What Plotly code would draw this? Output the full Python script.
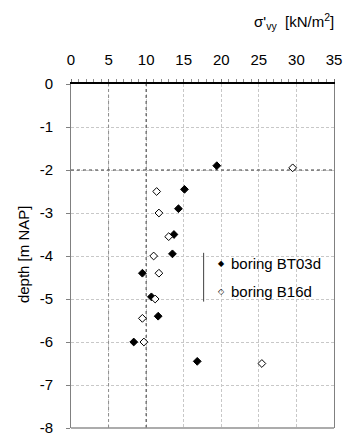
import plotly.graph_objects as go

# Effective vertical stress versus depth for two borings
depth_bt03d = [-1.9, -2.45, -2.9, -3.5, -3.95, -4.4, -4.95, -5.4, -6.0, -6.45]
sigma_bt03d = [19.4, 15.1, 14.3, 13.7, 13.5, 9.5, 10.7, 11.6, 8.35, 16.8]

depth_b16d = [-1.95, -2.5, -3.0, -3.55, -4.0, -4.4, -5.0, -5.45, -6.0, -6.5]
sigma_b16d = [29.5, 11.4, 11.7, 13.0, 11.0, 11.7, 11.2, 9.5, 9.7, 25.4]

x_ticks = [0, 5, 10, 15, 20, 25, 30, 35]
y_ticks = [0, -1, -2, -3, -4, -5, -6, -7, -8]
y_tick_labels = ["0", "-1", "-2", "-3", "-4", "-5", "-6", "-7", "-8"]

series_names = ["boring BT03d", "boring B16d"]

FONT = "Liberation Sans"
FS = 15

fig = go.Figure()
fig.add_trace(go.Scatter(
    x=sigma_bt03d, y=depth_bt03d, mode="markers", name=series_names[0],
    marker=dict(symbol="diamond", size=6, color="black", line=dict(width=1, color="black")),
    showlegend=False,
))
fig.add_trace(go.Scatter(
    x=sigma_b16d, y=depth_b16d, mode="markers", name=series_names[1],
    marker=dict(symbol="diamond", size=6, color="white", line=dict(width=1, color="black")),
    showlegend=False,
))

fig.update_layout(
    width=352, height=446,
    margin=dict(l=71, r=11, t=84, b=10),
    paper_bgcolor="white", plot_bgcolor="white",
    font=dict(family=FONT, size=FS, color="black"),
    xaxis=dict(
        side="top", range=[0, 35], tickvals=x_ticks,
        showgrid=True, gridcolor="#c8c8c8", griddash="3px,2px", gridwidth=1,
        showline=True, linecolor="black", linewidth=1.5,
        ticks="outside", ticklen=3, tickcolor="#707070",
        ticklabelstandoff=8,
        minor=dict(dtick=1, ticks="outside", ticklen=3, tickcolor="#909090", showgrid=False),
        zeroline=False,
    ),
    yaxis=dict(
        range=[-8, 0], tickvals=y_ticks, ticktext=y_tick_labels,
        showgrid=True, gridcolor="#c8c8c8", griddash="3px,2px", gridwidth=1,
        showline=True, linecolor="#808080", linewidth=1, mirror=True,
        ticks="outside", ticklen=4, tickcolor="#808080",
        ticklabelstandoff=10,
        zeroline=False,
    ),
)

shapes = [
    # darker reference lines
    dict(type="line", xref="x", yref="y", x0=5, x1=5, y0=-8, y1=0,
         line=dict(color="#8c8c8c", width=1, dash="dot"), layer="between"),
    dict(type="line", xref="x", yref="y", x0=10, x1=10, y0=-8, y1=0,
         line=dict(color="#3c3c3c", width=1, dash="dot"), layer="between"),
    dict(type="line", xref="x", yref="y", x0=0, x1=35, y0=-2, y1=-2,
         line=dict(color="#3c3c3c", width=1, dash="dot"), layer="between"),
    # bottom frame line
    dict(type="line", xref="paper", yref="paper", x0=0, x1=1, y0=0, y1=0,
         line=dict(color="#909090", width=1.5), layer="above"),
    # legend panel
    dict(type="rect", xref="paper", yref="paper", x0=0.5043, x1=0.990, y0=0.3504, y1=0.5319,
         fillcolor="white", line=dict(width=0), layer="between"),
    dict(type="line", xref="paper", yref="paper", x0=0.5043, x1=0.5043, y0=0.3674, y1=0.5092,
         line=dict(color="#404040", width=1), layer="above"),
]
fig.update_layout(shapes=shapes)

annotations = [
    dict(text="σ'<sub>vy</sub>  [kN/m<sup>2</sup>]", xref="paper", yref="paper",
         x=1.0085, y=1.1816, xanchor="right", yanchor="middle", showarrow=False,
         font=dict(family=FONT, size=FS)),
    dict(text="depth [m NAP]", xref="paper", yref="paper", textangle=-90,
         x=-0.178, y=0.506, xanchor="center", yanchor="middle", showarrow=False,
         font=dict(family=FONT, size=FS)),
    dict(text="◆", xref="paper", yref="paper", x=0.5736, y=0.4772,
         xanchor="center", yanchor="middle", showarrow=False,
         font=dict(family="DejaVu Sans", size=8)),
    dict(text="◇", xref="paper", yref="paper", x=0.5736, y=0.3966,
         xanchor="center", yanchor="middle", showarrow=False,
         font=dict(family="DejaVu Sans", size=8)),
    dict(text=series_names[0], xref="paper", yref="paper", x=0.6007, y=0.4772,
         xanchor="left", yanchor="middle", showarrow=False,
         font=dict(family=FONT, size=FS)),
    dict(text=series_names[1], xref="paper", yref="paper", x=0.6007, y=0.3966,
         xanchor="left", yanchor="middle", showarrow=False,
         font=dict(family=FONT, size=FS)),
]
fig.update_layout(annotations=annotations)

fig.write_html("out.html")
